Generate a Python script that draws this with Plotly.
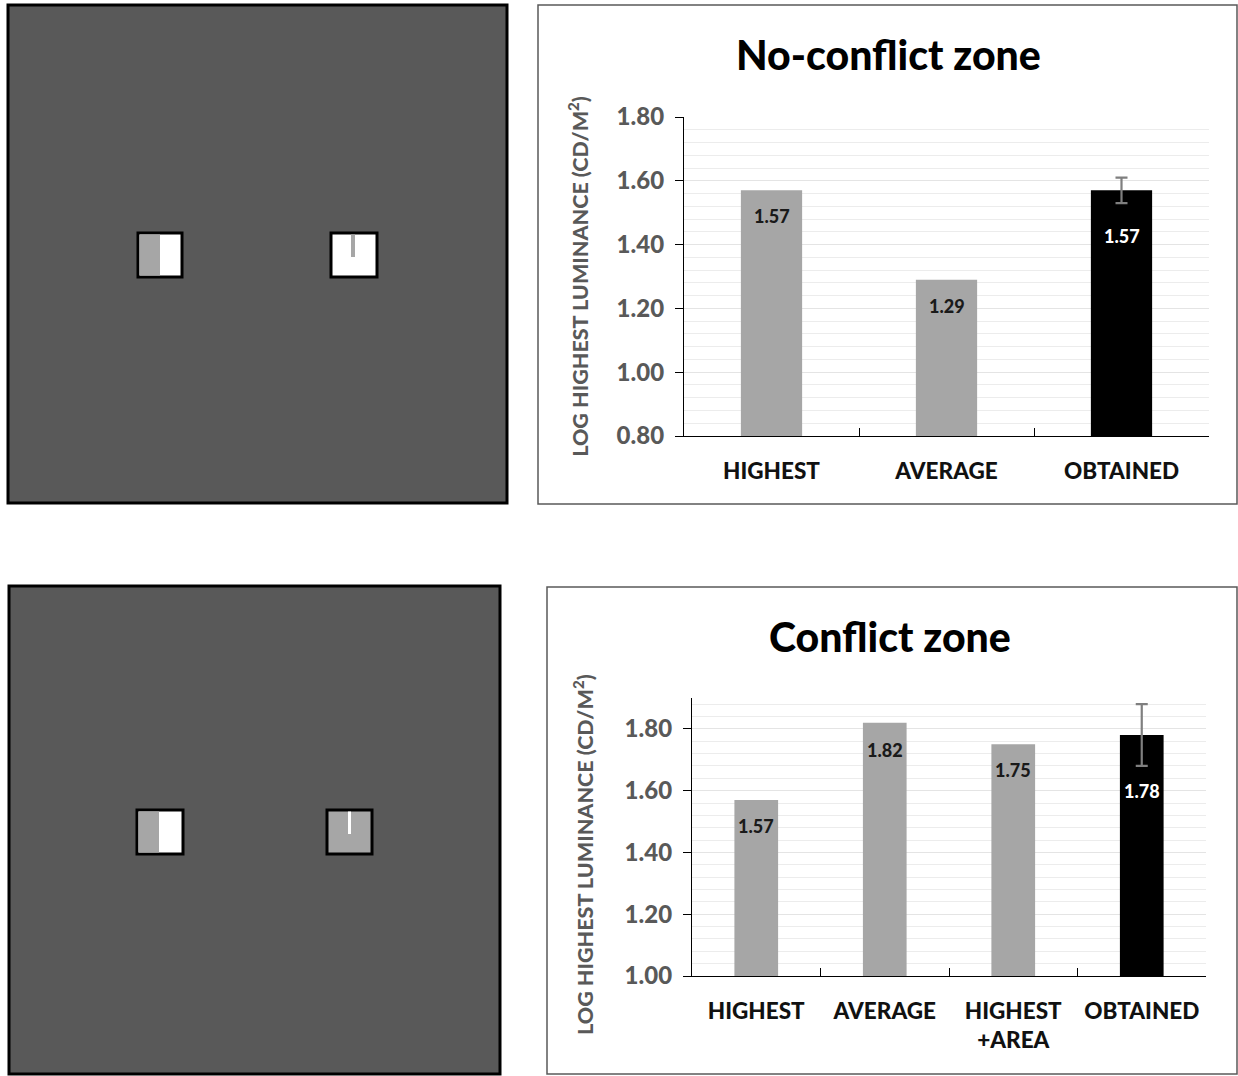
import plotly.graph_objects as go

# ---------------- data ----------------
cats_top = ["HIGHEST", "AVERAGE", "OBTAINED"]
vals_top = [1.57, 1.29, 1.57]
err_top = [0.0, 0.0, 0.04]
label_shift_top = [26, 26, 46]

cats_bot = ["HIGHEST", "AVERAGE", "HIGHEST<br>+AREA", "OBTAINED"]
vals_bot = [1.57, 1.82, 1.75, 1.78]
err_bot = [0.0, 0.0, 0.0, 0.10]
label_shift_bot = [26, 27, 26, 56]

title_top = "No-conflict zone"
title_bot = "Conflict zone"
ytitle = "LOG HIGHEST LUMINANCE (CD/M<sup>2</sup>)"

# ---------------- style ----------------
W, H = 1238, 1076
FONT = "Lato"
WEIGHT = 900
GRAY_BAR = "#a6a6a6"
BLACK_BAR = "#000000"
DARK = "#595959"


def px(x):
    return x / W


def py(y):
    return 1 - y / H


fig = go.Figure()


def add_chart(cats, vals, errs, shifts, xa, ya, bw):
    n = len(cats)
    colors = [GRAY_BAR] * (n - 1) + [BLACK_BAR]
    fig.add_trace(go.Bar(
        x=cats[:-1], y=vals[:-1], marker=dict(color=colors[:-1], line=dict(width=0)),
        width=bw, xaxis=xa, yaxis=ya, showlegend=False, hoverinfo="x+y"))
    fig.add_trace(go.Bar(
        x=cats[-1:], y=vals[-1:], marker=dict(color=colors[-1:], line=dict(width=0)),
        width=bw, xaxis=xa, yaxis=ya, showlegend=False,
        error_y=dict(type="data", array=errs[-1:], visible=True, color="#7f7f7f",
                     thickness=2.2, width=6),
        hoverinfo="x+y"))
    for c, v, s, col in zip(cats, vals, shifts, colors):
        fig.add_annotation(
            x=c, y=v, xref=xa, yref=ya, text=f"{v:.2f}", showarrow=False,
            yanchor="middle", yshift=-s,
            font=dict(family=FONT, size=18, weight=WEIGHT,
                      color="#ffffff" if col == BLACK_BAR else "#1a1a1a"))


add_chart(cats_top, vals_top, err_top, label_shift_top, "x", "y", 0.35)
add_chart(cats_bot, vals_bot, err_bot, label_shift_bot, "x2", "y2", 0.34)

ytitle_font = dict(family=FONT, size=21.5, weight=WEIGHT, color=DARK)

xcommon = dict(
    type="category", tickson="boundaries", ticks="inside", ticklen=8,
    tickcolor="#000000", tickwidth=1.2, showline=True, linecolor="#000000",
    linewidth=1.2, showgrid=False, automargin=False, ticklabelstandoff=15,
    tickfont=dict(family=FONT, size=22.5, weight=WEIGHT, color="#111111"),
    fixedrange=True)
ycommon = dict(
    dtick=0.2, tickformat=".2f", ticks="outside", ticklen=8, tickcolor="#000000",
    tickwidth=1.2, showline=True, linecolor="#000000", linewidth=1.2,
    showgrid=True, gridcolor="#e4e4e4", gridwidth=1, zeroline=False,
    automargin=False, ticklabelstandoff=6,
    minor=dict(dtick=0.04, showgrid=True, gridcolor="#ececec", gridwidth=1),
    tickfont=dict(family=FONT, size=24, weight=WEIGHT, color=DARK),
    fixedrange=True)

fig.update_layout(
    width=W, height=H,
    margin=dict(l=0, r=0, t=0, b=0),
    template="none",
    paper_bgcolor="#ffffff",
    plot_bgcolor="rgba(0,0,0,0)",
    barmode="overlay",
    showlegend=False,
    xaxis=dict(domain=[px(684), px(1209)], anchor="y",
               range=[-0.5, len(cats_top) - 0.5], **xcommon),
    yaxis=dict(domain=[py(436), py(117)], anchor="x", range=[0.8, 1.8],
               tick0=0.8, title=dict(text=ytitle, standoff=22, font=ytitle_font),
               **ycommon),
    xaxis2=dict(domain=[px(692), px(1206)], anchor="y2",
                range=[-0.5, len(cats_bot) - 0.5], **xcommon),
    yaxis2=dict(domain=[py(976), py(698)], anchor="x2", range=[1.0, 1.9],
                tick0=1.0, **ycommon),
)

# bottom chart's axis title (placed like the reference, slightly below the axis centre)
fig.add_annotation(x=px(583), y=py(855), xref="paper", yref="paper",
                   text=ytitle, textangle=-90, showarrow=False,
                   xanchor="center", yanchor="middle", font=ytitle_font)

# ---------------- panel frames & stimulus illustrations ----------------
shapes = []


def rect(x0, y0, x1, y1, fill, line_color=None, line_w=0):
    shapes.append(dict(
        type="rect", xref="paper", yref="paper", layer="below",
        x0=px(x0), x1=px(x1), y0=py(y1), y1=py(y0),
        fillcolor=fill,
        line=dict(color=line_color or fill, width=line_w)))


# chart boxes
rect(538, 5, 1237, 504, "#ffffff", DARK, 1.5)
rect(547, 587, 1237, 1074, "#ffffff", DARK, 1.5)

# left stimulus panels
rect(8, 5, 507, 503, DARK, "#000000", 3)
rect(9, 586, 500, 1074, DARK, "#000000", 3)

# top stimuli
rect(138, 233, 182, 277, "#ffffff", "#000000", 3)
rect(139.5, 234.5, 160, 275.5, GRAY_BAR)
rect(331, 233, 377, 277, "#ffffff", "#000000", 3)
rect(351, 234.5, 355, 257, GRAY_BAR)

# bottom stimuli
rect(137, 810, 183, 854, "#ffffff", "#000000", 3)
rect(138.5, 811.5, 159, 852.5, GRAY_BAR)
rect(327, 810, 372, 854, GRAY_BAR, "#000000", 3)
rect(348, 811.5, 351, 834, "#ffffff")

fig.update_layout(shapes=shapes)

# chart titles
fig.add_annotation(x=px(888), y=py(55), xref="paper", yref="paper",
                   text=title_top, showarrow=False, xanchor="center", yanchor="middle",
                   font=dict(family=FONT, size=41, weight=WEIGHT, color="#000000"))
fig.add_annotation(x=px(890), y=py(636), xref="paper", yref="paper",
                   text=title_bot, showarrow=False, xanchor="center", yanchor="middle",
                   font=dict(family=FONT, size=41, weight=WEIGHT, color="#000000"))

fig.write_html("out.html", config={"displayModeBar": False},
               post_script="document.body.style.margin='0';")
